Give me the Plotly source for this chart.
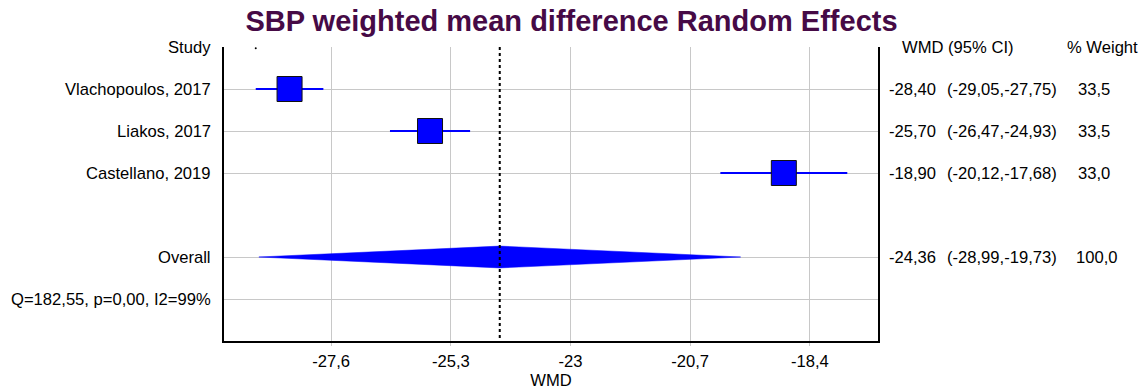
import plotly.graph_objects as go

title_text = "SBP weighted mean difference Random Effects"
studies = ["Vlachopoulos, 2017", "Liakos, 2017", "Castellano, 2019"]
wmd = [-28.40, -25.70, -18.90]
ci_lo = [-29.05, -26.47, -20.12]
ci_hi = [-27.75, -24.93, -17.68]
weights = [33.5, 33.5, 33.0]
study_rows = [1, 2, 3]

overall_label = "Overall"
overall_row = 5
overall_wmd = -24.36
overall_lo = -28.99
overall_hi = -19.73
overall_weight = 100.0

het_text = "Q=182,55, p=0,00, I2=99%"
het_row = 6

x_ticks = [-27.6, -25.3, -23.0, -20.7, -18.4]
x_ticklabels = ["-27,6", "-25,3", "-23", "-20,7", "-18,4"]
x_range = [-29.66, -17.09]
y_range = [7, 0]
grid_rows = [1, 2, 3, 5, 6]

FONT = "Liberation Sans, Arial, sans-serif"
BLUE = "#0000FF"
FS = 16.6


def fmt(v, d=2):
    return f"{v:.{d}f}".replace(".", ",")


fig = go.Figure()

# CI lines
for r, lo, hi in zip(study_rows, ci_lo, ci_hi):
    fig.add_trace(go.Scatter(x=[lo, hi], y=[r, r], mode="lines",
                             line=dict(color=BLUE, width=2), hoverinfo="skip", showlegend=False))

# squares
fig.add_trace(go.Scatter(x=wmd, y=study_rows, mode="markers",
                         marker=dict(symbol="square", size=25, color=BLUE, opacity=1,
                                     line=dict(color="#111111", width=1)),
                         showlegend=False))

# diamond
h = 0.26
fig.add_trace(go.Scatter(x=[overall_lo, overall_wmd, overall_hi, overall_wmd, overall_lo],
                         y=[overall_row, overall_row - h, overall_row, overall_row + h, overall_row],
                         mode="lines", fill="toself", fillcolor=BLUE, line=dict(color=BLUE, width=0.5),
                         showlegend=False))

# overall dotted line
fig.add_trace(go.Scatter(x=[overall_wmd, overall_wmd], y=[y_range[1], y_range[0]], mode="lines",
                         line=dict(color="black", width=2, dash="dot"), showlegend=False))

# small dot at top
fig.add_trace(go.Scatter(x=[ci_lo[0]], y=[0.03], mode="markers",
                         marker=dict(color="black", size=2), showlegend=False))

ann = []
def left(text, row):
    ann.append(dict(text=text, xref="paper", x=0, xanchor="right", xshift=-11,
                    yref="y", y=row, yanchor="middle", showarrow=False,
                    font=dict(family=FONT, size=FS, color="black")))

def right(text, row, shift):
    ann.append(dict(text=text, xref="paper", x=1, xanchor="left", xshift=shift,
                    yref="y", y=row, yanchor="middle", showarrow=False,
                    font=dict(family=FONT, size=FS, color="black")))

left("Study", 0)
for s, r in zip(studies, study_rows):
    left(s, r)
left(overall_label, overall_row)
left(het_text, het_row)

right("WMD (95% CI)", 0, 22)
right("% Weight", 0, 187)
for r, e, lo, hi, w in zip(study_rows, wmd, ci_lo, ci_hi, weights):
    right(fmt(e), r, 9)
    right(f"({fmt(lo)},{fmt(hi)})", r, 67)
    right(fmt(w, 1), r, 198)
right(fmt(overall_wmd), overall_row, 9)
right(f"({fmt(overall_lo)},{fmt(overall_hi)})", overall_row, 67)
right(fmt(overall_weight, 1), overall_row, 196)

fig.update_layout(
    width=1143, height=392, autosize=False,
    margin=dict(l=224, r=265, t=47, b=51, autoexpand=False),
    plot_bgcolor="white", paper_bgcolor="white",
    title=dict(text=f"<b>{title_text}</b>", x=0.5, xref="container", xanchor="center",
               y=1 - 21 / 392, yref="container", yanchor="middle",
               font=dict(family=FONT, size=29, color="#460A46")),
    annotations=ann,
    xaxis=dict(range=x_range, tickvals=x_ticks, ticktext=x_ticklabels, showgrid=True,
               gridcolor="#C8C8C8", gridwidth=1, zeroline=False, showline=True, linecolor="black",
               linewidth=2, ticks="outside", ticklen=3, tickcolor="#C8C8C8",
               ticklabelstandoff=1, automargin=False,
               tickfont=dict(family=FONT, size=FS, color="black"),
               title=dict(text="WMD", font=dict(family=FONT, size=FS, color="black"), standoff=3)),
    yaxis=dict(range=y_range, tickvals=grid_rows, showticklabels=False, showgrid=True,
               gridcolor="#C8C8C8", gridwidth=1, zeroline=False, showline=True, mirror=True,
               linecolor="black", linewidth=2, ticks="", automargin=False),
)

fig.write_html("out.html")
